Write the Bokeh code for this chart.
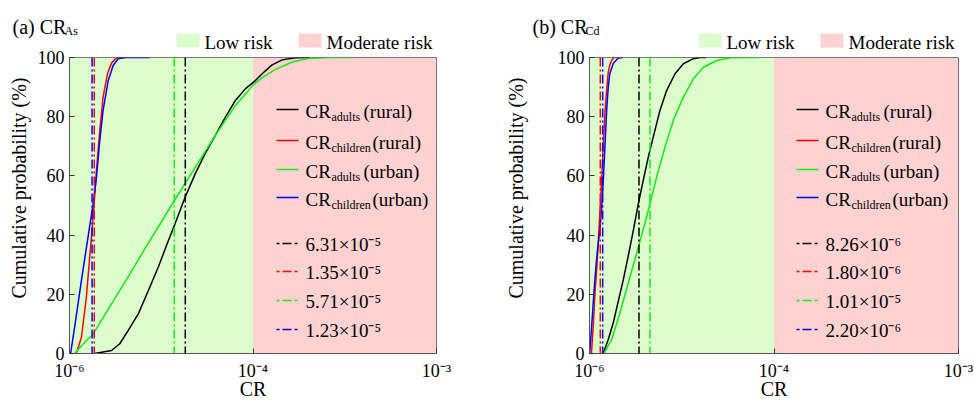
import numpy as np
from bokeh.plotting import figure
from bokeh.layouts import row, column
from bokeh.models import BoxAnnotation, Span, Label, Arrow, FixedTicker, Range1d
from bokeh.embed import file_html
from bokeh.resources import INLINE

FONT = "Liberation Serif"
GREEN_BG = "#dcfccc"
RED_BG = "#ffd2d2"
COLORS = ["#000000", "#ff0000", "#11ee11", "#0000ff"]

# ---------------- data ----------------
groups = ["adults", "children", "adults", "children"]
areas = ["(rural)", "(rural)", "(urban)", "(urban)"]
risk_names = ["Low risk", "Moderate risk"]
tick_labels = ["10⁻⁶", "10⁻⁴", "10⁻³"]
y_ticks = [0, 20, 40, 60, 80, 100]

# panel (a) CR_As, CR in units of 1e-6, cumulative probability in %
a_black_x = [13.7, 22.9, 27.4, 32.0, 37.5, 43.0, 48.4, 53.9, 57.5, 63.0, 68.5, 73.9, 79.4,
             84.9, 90.4, 95.8, 101.3, 105.0, 110.4, 115.9, 123.0, 130.7]
a_black_y = [0, 1.0, 3.3, 7.8, 13.4, 21.3, 29.2, 38.2, 43.8, 52.8, 60.7, 67.5, 73.6,
             79.8, 85.5, 89.4, 92.2, 94.5, 97.5, 99.2, 99.9, 100]
a_red_x = [3.7, 6.5, 9.2, 11.0, 12.9, 14.7, 16.5, 18.3, 20.7, 22.9, 25.6, 28.4, 31.1]
a_red_y = [0, 5.5, 19, 32.5, 46, 61.8, 75.3, 86.6, 94.5, 98.1, 99.9, 100, 100]
a_green_x = [2.8, 8.3, 12.9, 22.9, 32.0, 41.1, 50.2, 56.6, 68.5, 79.4, 90.4, 97.7, 99.5,
             105.0, 112.3, 121.4, 130.5, 141.5, 154.2]
a_green_y = [0, 3.8, 6.6, 16.8, 26.0, 35.4, 44.6, 51.1, 62.9, 73.6, 83.8, 88.9, 90.4,
             93.2, 96.0, 98.5, 99.7, 100, 100]
a_blue_x = [0.6, 2.8, 6.5, 10.1, 12.9, 14.7, 16.5, 18.3, 21.1, 23.8, 26.5, 30.2, 43.7]
a_blue_y = [0, 8.9, 24.7, 39.3, 50.6, 59.6, 72.0, 82.1, 92.2, 97.3, 99.6, 100, 100]
a_means = [63.1, 13.5, 57.1, 12.3]
a_mean_labels = ["6.31×10⁻⁵", "1.35×10⁻⁵", "5.71×10⁻⁵", "1.23×10⁻⁵"]

# panel (b) CR_Cd
b_black_x = [2.29, 3.13, 3.96, 4.80, 5.64, 6.47, 7.31, 8.14, 8.98, 9.82, 10.65, 11.77,
             12.89, 14.28, 15.67, 17.34, 18.46, 19.46]
b_black_y = [0, 4.7, 10.3, 17.6, 24.9, 33.0, 41.5, 50.5, 58.6, 66.4, 73.2, 82.2,
             88.9, 94.5, 97.9, 99.6, 100, 100]
b_red_x = [0.32, 0.65, 0.90, 1.19, 1.45, 1.74, 2.02, 2.29, 2.58, 2.86, 3.13, 3.39, 3.68, 4.06, 4.55]
b_red_y = [0, 10, 20, 28, 37, 48, 58, 70, 81.5, 89, 95, 97.5, 99, 100, 100]
b_green_x = [2.41, 3.70, 5.08, 6.47, 7.88, 9.26, 10.10, 11.22, 12.61, 14.00, 15.67, 17.34,
             19.01, 21.25, 23.48, 26.82, 28.49]
b_green_y = [0, 4.7, 13.7, 23.8, 33.9, 44.0, 50.7, 59.7, 69.8, 78.8, 86.6, 92.8,
             96.7, 99.0, 99.9, 100, 100]
b_blue_x = [0.02, 0.32, 0.62, 0.90, 1.19, 1.45, 1.74, 2.02, 2.29, 2.58, 2.86, 3.13, 3.39,
            3.96, 4.80, 5.59]
b_blue_y = [0, 8, 17, 25, 32, 37, 42, 49, 58, 70, 82, 90, 94.5, 98, 99.8, 100]
b_means = [8.26, 1.80, 10.1, 2.20]
b_mean_labels = ["8.26×10⁻⁶", "1.80×10⁻⁶", "1.01×10⁻⁵", "2.20×10⁻⁶"]

UNIT = 1e-6

# ---------------- layout ----------------
W = 487
HEAD = 52
OVERLAP = 8
TOP = 5 + OVERLAP
FH = 296
BOTTOM = 47
ROW_OFF = [52, 83, 112, 140, 186, 214, 243, 272]
SUFFIX_X = {"adults": 294, "children": 303}
DASHDOT = "9 3 2 3"
FIX = 4  # baseline correction of rendered labels
YLABEL_PAD = "\u00a0" * 7


def lab(p, x, y, text, size="19px", align="left"):
    p.add_layout(Label(x=x, y=y + FIX, x_units="screen", y_units="screen", text=text,
                       text_font=FONT, text_font_size=size, text_color="#000000",
                       text_align=align, text_baseline="alphabetic"))


def make_header(tag, sub, sub_x, left, fw):
    # header strip: frame covers the strip, screen y counted from its bottom
    h = figure(width=W, height=HEAD, output_backend="svg", toolbar_location=None,
               title=None, x_range=Range1d(0, W), y_range=Range1d(0, HEAD),
               x_axis_type=None, y_axis_type=None,
               min_border_left=1, min_border_right=1, min_border_top=1, min_border_bottom=1)
    h.outline_line_color = None
    h.background_fill_color = "white"
    h.border_fill_color = "white"
    base = HEAD - 1  # canvas-top reference
    lab(h, left - 58, base - 30, tag, "20px")
    lab(h, left + sub_x - 1, base - 34, sub, "12px")
    for i, (name, col) in enumerate(zip(risk_names, [GREEN_BG, RED_BG])):
        bx = left + fw - 261 + i * 122
        h.add_layout(BoxAnnotation(left=bx, right=bx + 23, bottom=base - 47, top=base - 33,
                                   left_units="screen", right_units="screen",
                                   bottom_units="screen", top_units="screen",
                                   fill_color=col, fill_alpha=1, line_color=None))
        lab(h, bx + 28, base - 46, name, "19px")
    return h


def make_panel(x_end, x_mid, curves, means, mean_labels, left, right, ylab_standoff):
    fw = W - left - right
    p = figure(frame_width=fw, frame_height=FH, output_backend="svg", toolbar_location=None,
               title=None, x_range=Range1d(0, x_end), y_range=Range1d(0, 100),
               min_border_left=left, min_border_right=right,
               min_border_top=TOP, min_border_bottom=BOTTOM)
    p.background_fill_color = "white"
    p.border_fill_color = "white"
    p.border_fill_alpha = 0
    p.outline_line_color = "#555555"
    p.outline_line_width = 1
    p.xgrid.visible = False
    p.ygrid.visible = False

    # risk zones
    p.add_layout(BoxAnnotation(left=0, right=x_mid, fill_color=GREEN_BG, fill_alpha=1,
                               line_color=None, level="underlay"))
    p.add_layout(BoxAnnotation(left=x_mid, right=x_end, fill_color=RED_BG, fill_alpha=1,
                               line_color=None, level="underlay"))

    # CDF curves
    for (xs, ys), c in zip(curves, COLORS):
        p.line(np.array(xs) * UNIT, ys, line_color=c, line_width=1.5)

    # mean lines
    for m, c in zip(means, COLORS):
        p.add_layout(Span(location=m * UNIT, dimension="height", line_color=c,
                          line_width=1.5, line_dash=DASHDOT))

    # axes
    for ax in (p.xaxis[0], p.yaxis[0]):
        ax.axis_line_color = "#555555"
        ax.major_tick_line_color = "#333333"
        ax.major_tick_in = 5
        ax.major_tick_out = 0
        ax.minor_tick_line_color = None
        ax.major_label_text_font = FONT
        ax.major_label_text_font_size = "18px"
        ax.major_label_text_color = "#000000"
        ax.axis_label_text_font = FONT
        ax.axis_label_text_font_size = "20px"
        ax.axis_label_text_font_style = "normal"
        ax.axis_label_text_color = "#000000"
    x_ticks = [0.0, x_mid, x_end]
    p.xaxis.ticker = FixedTicker(ticks=x_ticks)
    p.xaxis.major_label_overrides = dict(zip(x_ticks, tick_labels))
    p.xaxis.major_label_standoff = 7
    p.xaxis.axis_label = "CR"
    p.xaxis.axis_label_standoff = -6
    p.yaxis.ticker = FixedTicker(ticks=y_ticks)
    p.yaxis.major_label_standoff = 5
    p.yaxis.axis_label = YLABEL_PAD + "Cumulative probability (%)"
    p.yaxis.axis_label_standoff = ylab_standoff

    # series legend
    for i in range(4):
        yc = FH - ROW_OFF[i]
        p.add_layout(Arrow(x_start=207, y_start=yc, x_end=229, y_end=yc,
                           start_units="screen", end_units="screen", end=None,
                           line_color=COLORS[i], line_width=1.5))
        lab(p, 236, yc - 6, "CR", "19px")
        lab(p, 262, yc - 11, groups[i], "12px")
        lab(p, SUFFIX_X[groups[i]], yc - 6, areas[i], "19px")
    for i in range(4):
        yc = FH - ROW_OFF[4 + i]
        p.add_layout(Arrow(x_start=207, y_start=yc, x_end=229, y_end=yc,
                           start_units="screen", end_units="screen", end=None,
                           line_color=COLORS[i], line_width=1.5, line_dash="3 3 9 3"))
        lab(p, 236, yc - 5, mean_labels[i], "19px")
    return p


A_LEFT, A_RIGHT = 69, 51
B_LEFT, B_RIGHT = 102, 16

ha = make_header("(a) CR", "As", -5, A_LEFT, W - A_LEFT - A_RIGHT)
hb = make_header("(b) CR", "Cd", -4, B_LEFT, W - B_LEFT - B_RIGHT)
pa = make_panel(2.0e-4, 1.0e-4,
                [(a_black_x, a_black_y), (a_red_x, a_red_y), (a_green_x, a_green_y), (a_blue_x, a_blue_y)],
                a_means, a_mean_labels, A_LEFT, A_RIGHT, 5)
pb = make_panel(6.16e-5, 3.08e-5,
                [(b_black_x, b_black_y), (b_red_x, b_red_y), (b_green_x, b_green_y), (b_blue_x, b_blue_y)],
                b_means, b_mean_labels, B_LEFT, B_RIGHT, 28)

layout = column(row(ha, hb), row(pa, pb, margin=(-OVERLAP, 0, 0, 0)))
open("out.html", "w").write(file_html(layout, INLINE))
